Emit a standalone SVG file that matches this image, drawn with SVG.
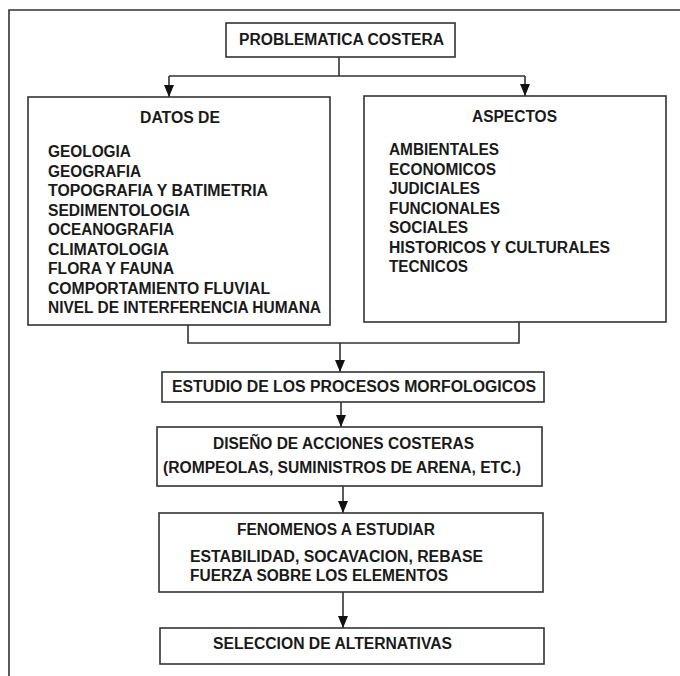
<svg xmlns="http://www.w3.org/2000/svg" width="680" height="676" viewBox="0 0 680 676">
<defs>
<marker id="ah" viewBox="0 0 12 10" refX="12" refY="5" markerWidth="12" markerHeight="10" markerUnits="userSpaceOnUse" orient="auto">
<path d="M0,0 L12,5 L0,10 Z" fill="#111"/>
</marker>
<style>
.box{fill:#fff;stroke:#333;stroke-width:1.6}
.ln{fill:none;stroke:#333;stroke-width:1.6}
.ar{fill:none;stroke:#333;stroke-width:1.6;marker-end:url(#ah)}
text{font-family:"Liberation Sans",Arial,sans-serif;font-weight:bold;font-size:16px;fill:#1a1a1a}
</style>
</defs>
<rect width="680" height="676" fill="#fff"/>
<g id="frame">
<path class="ln" d="M9,676 L9,10 L680,10"/>
</g>
<g id="connectors">
<path class="ln" d="M339,57 L339,76 M169,76 L525,76"/>
<path class="ar" d="M169,76 L169,97"/>
<path class="ar" d="M525,76 L525,96"/>
<path class="ln" d="M188,325 L188,343 L519,343 L519,322"/>
<path class="ar" d="M340,343 L340,372"/>
<path class="ar" d="M341,402 L341,427"/>
<path class="ar" d="M343,486 L343,513"/>
<path class="ar" d="M343,592 L343,628"/>
</g>
<g id="n-problematica">
<rect class="box" x="226" y="23" width="229" height="34"/>
<text x="239" y="45" textLength="205" lengthAdjust="spacingAndGlyphs">PROBLEMATICA COSTERA</text>
</g>
<g id="n-datos">
<rect class="box" x="28" y="97" width="302" height="228"/>
<text x="140" y="123" textLength="80" lengthAdjust="spacingAndGlyphs">DATOS DE</text>
<text x="48" y="157" textLength="83" lengthAdjust="spacingAndGlyphs">GEOLOGIA</text>
<text x="48" y="176.5" textLength="93" lengthAdjust="spacingAndGlyphs">GEOGRAFIA</text>
<text x="48" y="196" textLength="220" lengthAdjust="spacingAndGlyphs">TOPOGRAFIA Y BATIMETRIA</text>
<text x="48" y="215.5" textLength="142" lengthAdjust="spacingAndGlyphs">SEDIMENTOLOGIA</text>
<text x="48" y="235" textLength="126" lengthAdjust="spacingAndGlyphs">OCEANOGRAFIA</text>
<text x="48" y="254.5" textLength="121" lengthAdjust="spacingAndGlyphs">CLIMATOLOGIA</text>
<text x="48" y="274" textLength="126" lengthAdjust="spacingAndGlyphs">FLORA Y FAUNA</text>
<text x="48" y="293.5" textLength="222" lengthAdjust="spacingAndGlyphs">COMPORTAMIENTO FLUVIAL</text>
<text x="48" y="313" textLength="273" lengthAdjust="spacingAndGlyphs">NIVEL DE INTERFERENCIA HUMANA</text>
</g>
<g id="n-aspectos">
<rect class="box" x="364" y="96" width="302" height="226"/>
<text x="472" y="122" textLength="85" lengthAdjust="spacingAndGlyphs">ASPECTOS</text>
<text x="389" y="155" textLength="110" lengthAdjust="spacingAndGlyphs">AMBIENTALES</text>
<text x="389" y="174.5" textLength="107" lengthAdjust="spacingAndGlyphs">ECONOMICOS</text>
<text x="389" y="194" textLength="91" lengthAdjust="spacingAndGlyphs">JUDICIALES</text>
<text x="389" y="213.5" textLength="111" lengthAdjust="spacingAndGlyphs">FUNCIONALES</text>
<text x="389" y="233" textLength="79" lengthAdjust="spacingAndGlyphs">SOCIALES</text>
<text x="389" y="252.5" textLength="221" lengthAdjust="spacingAndGlyphs">HISTORICOS Y CULTURALES</text>
<text x="389" y="272" textLength="79" lengthAdjust="spacingAndGlyphs">TECNICOS</text>
</g>
<g id="n-estudio">
<rect class="box" x="162" y="372" width="382" height="30"/>
<text x="172" y="392" textLength="364" lengthAdjust="spacingAndGlyphs">ESTUDIO DE LOS PROCESOS  MORFOLOGICOS</text>
</g>
<g id="n-diseno">
<rect class="box" x="157" y="427" width="385" height="59"/>
<text x="213" y="449" textLength="261" lengthAdjust="spacingAndGlyphs">DISEÑO DE ACCIONES COSTERAS</text>
<text x="163" y="473" textLength="358" lengthAdjust="spacingAndGlyphs">(ROMPEOLAS, SUMINISTROS DE ARENA, ETC.)</text>
</g>
<g id="n-fenomenos">
<rect class="box" x="159" y="513" width="384" height="79"/>
<text x="237" y="535" textLength="198" lengthAdjust="spacingAndGlyphs">FENOMENOS A ESTUDIAR</text>
<text x="190" y="562" textLength="293" lengthAdjust="spacingAndGlyphs">ESTABILIDAD, SOCAVACION, REBASE</text>
<text x="190" y="581" textLength="258" lengthAdjust="spacingAndGlyphs">FUERZA SOBRE LOS ELEMENTOS</text>
</g>
<g id="n-seleccion">
<rect class="box" x="160" y="628" width="384" height="36"/>
<text x="213" y="649" textLength="239" lengthAdjust="spacingAndGlyphs">SELECCION DE ALTERNATIVAS</text>
</g>
</svg>
